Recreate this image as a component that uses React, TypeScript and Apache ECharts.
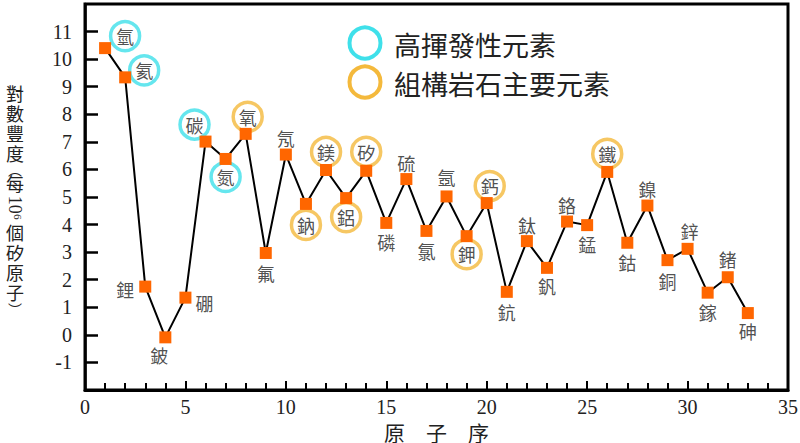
import React, { useEffect, useRef } from 'react';
import * as echarts from 'echarts';

// ---- data ----
const ELEMENTS = ['氫', '氦', '鋰', '鈹', '硼', '碳', '氮', '氧', '氟', '氖', '鈉', '鎂', '鋁', '矽', '磷', '硫', '氯', '氬', '鉀', '鈣', '鈧', '鈦', '釩', '鉻', '錳', '鐵', '鈷', '鎳', '銅', '鋅', '鎵', '鍺', '砷'];
const ATOMIC_NUMBERS = [1, 2, 3, 4, 5, 6, 7, 8, 9, 10, 11, 12, 13, 14, 15, 16, 17, 18, 19, 20, 21, 22, 23, 24, 25, 26, 27, 28, 29, 30, 31, 32, 33];
const LOG_ABUNDANCE = [10.40, 9.34, 1.75, -0.09, 1.35, 7.01, 6.38, 7.29, 2.97, 6.54, 4.75, 5.98, 4.96, 5.95, 4.06, 5.65, 3.77, 5.02, 3.58, 4.78, 1.56, 3.40, 2.43, 4.11, 3.98, 5.91, 3.34, 4.69, 2.71, 3.12, 1.53, 2.09, 0.79];
// v = highly volatile, r = major rock-forming, n = none
const GROUPS = ['v', 'v', 'n', 'n', 'n', 'v', 'v', 'r', 'n', 'n', 'r', 'r', 'r', 'r', 'n', 'n', 'n', 'n', 'r', 'r', 'n', 'n', 'n', 'n', 'n', 'r', 'n', 'n', 'n', 'n', 'n', 'n', 'n'];
const Y_TICK_LABELS = [-1, 0, 1, 2, 3, 4, 5, 6, 7, 8, 9, 10, 11];
const LEGEND_TEXTS = ['高揮發性元素', '組構岩石主要元素'];
const X_TITLE = '原　子　序';
const Y_TITLE_PARTS = ['對\n數\n豐\n度', '︵', '每', '10⁶', '個\n矽\n原\n子', '︶'];

// ---- layout (label offsets in px from each point) ----
const LABEL_OFFSETS: [number, number][] = [
  [20, -12], [19, -7], [-20, 2], [-6, 18], [19, 5], [-11, -17], [0, 18], [2, -17], [0, 20], [0, -17],
  [0, 21], [0, -18], [0, 19], [0, -19], [0, 19], [0, -16], [0, 20], [0, -19], [0, 18], [3, -17],
  [0, 20], [0, -16], [0, 18], [0, -17], [0, 19], [0, -18], [0, 19], [0, -17], [0, 21], [2, -18],
  [0, 19], [0, -18], [0, 18],
];
const Y_TITLE_Y = [123, 169, 183, 208, 262, 309];

const CYAN = '#3FE0EA';
const GOLD = '#F4B93C';
const ORANGE = '#FF6600';
const CJK = '"Noto Sans CJK TC", "Noto Sans CJK SC", sans-serif';
const SERIF = '"Liberation Serif", "DejaVu Serif", serif';

export default function App() {
  const ref = useRef<HTMLDivElement>(null);
  useEffect(() => {
    if (!ref.current) return;
    const chart = echarts.init(ref.current, undefined, { renderer: 'svg' });

    const points = ATOMIC_NUMBERS.map((z, i) => [z, LOG_ABUNDANCE[i]]);
    const labelData = ATOMIC_NUMBERS.map((z, i) => {
      const g = GROUPS[i];
      const circled = g !== 'n';
      return {
        name: ELEMENTS[i],
        value: [z, LOG_ABUNDANCE[i]],
        symbolSize: circled ? 29 : 1,
        symbolOffset: LABEL_OFFSETS[i],
        itemStyle: circled
          ? { color: '#fff', borderColor: g === 'v' ? CYAN : GOLD, borderWidth: 3.5 }
          : { color: 'rgba(0,0,0,0)', borderWidth: 0 },
      };
    });

    const graphics: any[] = [];
    Y_TITLE_PARTS.forEach((t, i) => {
      const rotated = /\d/.test(t);
      const paren = t === '︵' || t === '︶';
      graphics.push({
        type: 'text',
        x: 15,
        y: Y_TITLE_Y[i],
        rotation: rotated ? -Math.PI / 2 : 0,
        style: {
          text: t,
          font: rotated ? `18px ${SERIF}` : paren ? `14px ${CJK}` : `18px ${CJK}`,
          lineHeight: paren ? 14 : 19.7,
          fill: '#222',
          align: 'center',
          verticalAlign: 'middle',
        },
      });
    });
    const legendColors = [CYAN, GOLD];
    LEGEND_TEXTS.forEach((t, i) => {
      const cy = 43 + i * 39;
      graphics.push({
        type: 'circle',
        shape: { cx: 365, cy, r: 15.5 },
        style: { fill: '#fff', stroke: legendColors[i], lineWidth: 4 },
      });
      graphics.push({
        type: 'text',
        x: 394,
        y: cy + 1,
        style: { text: t, font: `27px ${CJK}`, fill: '#222', align: 'left', verticalAlign: 'middle' },
      });
    });

    chart.setOption({
      animation: false,
      backgroundColor: '#fff',
      grid: {
        left: 85, top: 4, right: 12, bottom: 53,
        outerBoundsMode: 'none',
        containLabel: false,
        show: true, borderColor: '#000', borderWidth: 3, backgroundColor: 'transparent',
      },
      xAxis: {
        type: 'value', min: 0, max: 35, interval: 5,
        name: X_TITLE, nameLocation: 'middle', nameGap: 31,
        nameMoveOverlap: false,
        nameTextStyle: { fontFamily: CJK, fontSize: 21, color: '#222', verticalAlign: 'top' },
        axisLine: { onZero: false, lineStyle: { color: '#000', width: 3 } },
        axisTick: { inside: true, length: 9, lineStyle: { color: '#000', width: 2 } },
        minorTick: { show: true, splitNumber: 5, length: 7, lineStyle: { color: '#000', width: 2 } },
        axisLabel: { fontFamily: SERIF, fontSize: 20, color: '#222', margin: 7 },
        splitLine: { show: false },
      },
      yAxis: {
        type: 'value', min: -2, max: 12, interval: 1,
        axisLine: { onZero: false, lineStyle: { color: '#000', width: 2.5 } },
        axisTick: { inside: true, length: 13, customValues: Y_TICK_LABELS, lineStyle: { color: '#000', width: 2.5 } },
        axisLabel: { fontFamily: SERIF, fontSize: 20, color: '#222', margin: 13, customValues: Y_TICK_LABELS },
        splitLine: { show: false },
      },
      series: [
        {
          type: 'scatter',
          z: 1,
          silent: true,
          data: labelData,
          label: {
            show: true, position: 'inside', formatter: '{b}',
            fontFamily: CJK, fontSize: 18, color: '#222',
          },
          emphasis: { disabled: true },
        },
        {
          type: 'line',
          z: 3,
          silent: true,
          data: points,
          symbol: 'rect',
          symbolSize: 12,
          itemStyle: { color: ORANGE },
          lineStyle: { color: '#000', width: 2 },
          emphasis: { disabled: true },
        },
      ],
      graphic: graphics,
    });
    return () => chart.dispose();
  }, []);
  return <div ref={ref} style={{ position: 'fixed', left: 0, top: 0, width: 800, height: 443 }} />;
}
